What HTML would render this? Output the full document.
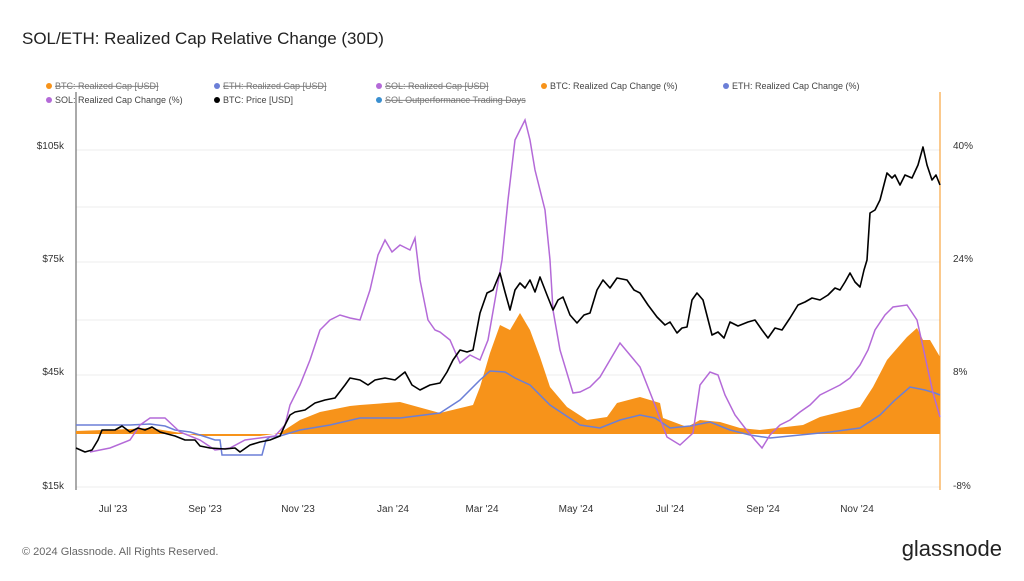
<!DOCTYPE html>
<html><head><meta charset="utf-8"><style>
body{margin:0;width:1024px;height:576px;background:#fff;font-family:"Liberation Sans",sans-serif;overflow:hidden}
</style></head><body>
<svg width="1024" height="576" xmlns="http://www.w3.org/2000/svg" font-family="Liberation Sans, sans-serif">
<text x="22" y="44" font-size="17" fill="#222">SOL/ETH: Realized Cap Relative Change (30D)</text>
<g font-size="9" fill="#777">
<circle cx="49" cy="86" r="3" fill="#f7931a"/><text x="55" y="89" text-decoration="line-through">BTC: Realized Cap [USD]</text>
<circle cx="217" cy="86" r="3" fill="#6b7fd7"/><text x="223" y="89" text-decoration="line-through">ETH: Realized Cap [USD]</text>
<circle cx="379" cy="86" r="3" fill="#b46ad8"/><text x="385" y="89" text-decoration="line-through">SOL: Realized Cap [USD]</text>
<circle cx="544" cy="86" r="3" fill="#f7931a"/><text x="550" y="89" fill="#444">BTC: Realized Cap Change (%)</text>
<circle cx="726" cy="86" r="3" fill="#6b7fd7"/><text x="732" y="89" fill="#444">ETH: Realized Cap Change (%)</text>
<circle cx="49" cy="100" r="3" fill="#b46ad8"/><text x="55" y="103" fill="#444">SOL: Realized Cap Change (%)</text>
<circle cx="217" cy="100" r="3" fill="#000"/><text x="223" y="103" fill="#444">BTC: Price [USD]</text>
<circle cx="379" cy="100" r="3" fill="#3a8fd0"/><text x="385" y="103" text-decoration="line-through">SOL Outperformance Trading Days</text>
</g>
<g stroke="#eee" stroke-width="1">
<line x1="76" x2="940" y1="150" y2="150"/><line x1="76" x2="940" y1="207" y2="207"/>
<line x1="76" x2="940" y1="262" y2="262"/><line x1="76" x2="940" y1="320" y2="320"/>
<line x1="76" x2="940" y1="375" y2="375"/><line x1="76" x2="940" y1="487" y2="487"/>
</g>
<line x1="76" y1="92" x2="76" y2="490" stroke="#555" stroke-width="1"/>
<line x1="940" y1="92" x2="940" y2="490" stroke="#f7931a" stroke-width="1"/>
<g font-size="10" fill="#333" text-anchor="end">
<text x="64" y="149">$105k</text><text x="64" y="262">$75k</text><text x="64" y="375">$45k</text><text x="64" y="489">$15k</text>
</g>
<g font-size="10" fill="#333">
<text x="953" y="149">40%</text><text x="953" y="262">24%</text><text x="953" y="375">8%</text><text x="953" y="489">-8%</text>
</g>
<g font-size="10" fill="#333" text-anchor="middle">
<text x="113" y="512">Jul '23</text><text x="205" y="512">Sep '23</text><text x="298" y="512">Nov '23</text><text x="393" y="512">Jan '24</text><text x="482" y="512">Mar '24</text><text x="576" y="512">May '24</text><text x="670" y="512">Jul '24</text><text x="763" y="512">Sep '24</text><text x="857" y="512">Nov '24</text>
</g>
<polygon fill="#f7931a" points="76,434 76,431 130,429 150,428 200,436 260,436 280,433 300,420 320,412 350,406 360,405 400,402 440,413 473,405 480,387 490,353 500,325 510,330 520,313 530,330 540,357 550,387 567,407 587,420 607,417 617,403 640,397 660,403 663,418 687,427 700,420 720,422 740,428 760,430 803,425 820,417 860,407 873,387 887,360 893,353 907,337 917,328 923,340 930,340 940,357 940,434"/>
<polyline fill="none" stroke="#6b7fd7" stroke-width="1.5" points="76,425 100,425 130,425 150,424 165,426 175,430 190,432 200,435 215,440 220,440 222,455 245,455 262,455 266,440 270,437 280,436 300,430 330,425 360,418 400,418 440,413 460,400 480,380 490,371 505,372 515,378 530,385 550,405 565,415 580,425 600,428 620,420 640,415 655,418 670,428 690,426 710,422 730,430 750,435 770,438 800,435 830,432 860,428 880,415 895,400 910,387 925,390 935,393 940,395"/>
<polyline fill="none" stroke="#b46ad8" stroke-width="1.5" points="90,452 110,448 130,440 140,425 150,418 165,418 180,432 200,440 215,450 230,448 245,440 260,438 275,436 285,425 290,405 300,385 310,360 320,330 330,320 340,315 350,318 360,320 370,290 378,255 385,240 392,252 400,245 410,250 415,238 420,280 428,320 435,330 440,332 450,340 460,363 470,355 480,360 488,340 495,300 502,260 508,200 515,140 520,130 525,120 530,140 535,170 545,210 550,260 553,310 560,350 573,393 580,392 590,387 600,377 610,360 620,343 630,355 640,367 653,400 667,437 680,445 693,433 700,385 710,372 718,375 725,395 735,415 745,428 755,440 762,448 770,435 780,425 790,420 800,412 810,405 820,395 830,390 840,385 850,378 860,365 868,350 875,330 885,315 893,307 907,305 917,320 923,347 933,393 940,417"/>
<polyline fill="none" stroke="#000" stroke-width="1.6" stroke-linejoin="round" points="76,448 85,452 92,450 98,440 102,430 115,430 122,426 130,432 138,428 145,430 152,427 160,432 175,436 185,440 195,440 200,446 210,448 225,449 235,448 240,452 250,445 260,442 270,440 280,436 285,425 290,415 295,412 305,410 315,403 325,400 335,398 345,385 350,378 360,380 368,385 375,380 385,378 395,380 405,372 412,385 420,390 430,385 440,383 447,372 453,360 460,350 467,352 473,350 480,313 487,293 493,290 500,273 505,292 510,310 515,290 520,283 525,288 530,280 535,292 540,277 547,295 553,310 558,300 563,297 570,315 577,323 584,315 590,313 597,290 603,280 610,288 617,278 627,280 634,290 640,293 648,305 657,317 665,325 670,322 677,333 682,328 687,327 692,300 697,293 703,300 712,335 718,332 724,338 730,322 738,326 748,322 755,320 762,330 768,338 775,328 782,330 790,318 798,305 805,302 812,298 820,300 828,295 835,288 840,290 845,282 850,273 855,282 860,287 864,270 867,260 870,213 875,210 880,200 887,173 892,178 895,175 900,185 905,175 912,178 918,165 923,147 927,165 932,180 936,175 940,185"/>
<text x="22" y="555" font-size="11" fill="#666">© 2024 Glassnode. All Rights Reserved.</text>
<text x="1002" y="556" font-size="22" fill="#222" text-anchor="end">glassnode</text>
</svg>
</body></html>
